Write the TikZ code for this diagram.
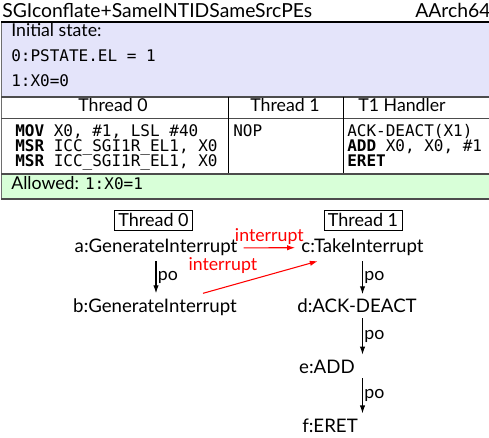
\documentclass[tikz,border=0pt]{standalone}
\usepackage{fontspec}
\setmainfont{Lato}
\setmonofont{DejaVu Sans Mono}
\usetikzlibrary{arrows.meta,calc,positioning}
\definecolor{initblue}{RGB}{228,228,250}
\definecolor{allowgreen}{RGB}{216,255,216}
\definecolor{framegray}{RGB}{110,110,110}

\tikzset{
  evnode/.style={inner xsep=4.5pt, inner ysep=3.5pt, anchor=base, font=\fontsize{14}{16}\selectfont},
  thrbox/.style={draw, thin, inner xsep=3pt, inner ysep=2.5pt, anchor=base, font=\fontsize{13.5}{16}\selectfont},
  poedge/.style={-{Latex[length=6pt,width=4pt]}, thick},
  intedge/.style={-{Latex[length=6pt,width=4pt]}, thick, red},
  cell/.style={anchor=base west, inner sep=0pt},
  codeline/.style={anchor=base west, inner sep=0pt, font=\fontsize{12}{14}\ttfamily}
}

\begin{document}
\begin{tikzpicture}[x=0.75pt, y=-0.75pt, font=\fontsize{13.3}{15}\selectfont]
        \useasboundingbox (0,0) rectangle (489,438);

        % test header
        \node[cell, font=\fontsize{14.5}{16}\selectfont] (title) at (2,18) {SGIconflate+SameINTIDSameSrcPEs};
        \node[cell, font=\fontsize{14.5}{16}\selectfont] (arch) at (415,18) {AArch64};

        % boxes
        \draw[framegray, fill=initblue] (1,22) rectangle (530,97);
        \draw[framegray, fill=white] (1,97) rectangle (530,174);
        \draw[framegray, fill=allowgreen] (1,174) rectangle (530,199);
        \draw[thick] (1,22) -- (530,22);
        \draw[thick, black!70] (1,97) -- (530,97);
        \draw[black!70] (1,118) -- (530,118);
        \draw[thick, black!70] (1,174) -- (530,174);
        \draw[thick, black!70] (1,199) -- (530,199);
        \draw (228,97) -- (228,173);
        \draw (343,97) -- (343,173);

        \node[cell] (init) at (11,37) {Initial state:};
        \node[codeline] (init0) at (11,62) {0:PSTATE.EL = 1};
        \node[codeline] (init1) at (11,87) {1:X0=0};

        \node[anchor=base, inner sep=0pt] (hd0) at (113,112) {Thread 0};
        \node[anchor=base, inner sep=0pt] (hd1) at (285,112) {Thread 1};
        \node[anchor=base, inner sep=0pt] (hd2) at (402,112) {T1 Handler};

        \node[codeline] (p0l1) at (15,137) {\textbf{MOV} X0, \#1, LSL \#40};
        \node[codeline] (p0l2) at (15,152) {\textbf{MSR} ICC\_SGI1R\_EL1, X0};
        \node[codeline] (p0l3) at (15,167) {\textbf{MSR} ICC\_SGI1R\_EL1, X0};
        \node[codeline] (p1l1) at (233,137) {NOP};
        \node[codeline] (p2l1) at (347,137) {ACK-DEACT(X1)};
        \node[codeline] (p2l2) at (347,152) {\textbf{ADD} X0, X0, \#1};
        \node[codeline] (p2l3) at (347,167) {\textbf{ERET}};

        \node[cell] (allowed) at (11,190) {Allowed: {\ttfamily\fontsize{12}{14}\selectfont 1:X0=1}};

        % graph
        \node[thrbox] (t0) at (153.5,227) {Thread 0};
        \node[thrbox] (t1) at (363,227) {Thread 1};

        \node[evnode] (a) at (156,253) {a:GenerateInterrupt};
        \node[evnode] (b) at (155,312) {b:GenerateInterrupt};
        \node[evnode] (c) at (362.5,253) {c:TakeInterrupt};
        \node[evnode] (d) at (357,313) {d:ACK-DEACT};
        \node[evnode] (e) at (327,373) {e:ADD};
        \node[evnode] (f) at (330,432) {f:ERET};

        \draw[poedge] (a.south) -- (b.north -| a.south) node[midway, right, inner sep=1pt] {po};
        \draw[poedge] (c.south) -- (d.north -| c.south) node[midway, right, inner sep=1pt] {po};
        \draw[poedge] (d.south -| c.south) -- (e.north -| c.south) node[midway, right, inner sep=1pt] {po};
        \draw[poedge] (e.south -| c.south) -- (f.north -| c.south) node[midway, right, inner sep=1pt] {po};

        \draw[intedge] (a.east) -- (c.west) node[midway, above, inner sep=2pt] {interrupt};
        \draw[intedge] ([xshift=36pt]b.north) -- ([xshift=17pt]c.south west) node[pos=0.5, anchor=south east, inner sep=2pt] {interrupt};
    \end{tikzpicture}
\end{document}
